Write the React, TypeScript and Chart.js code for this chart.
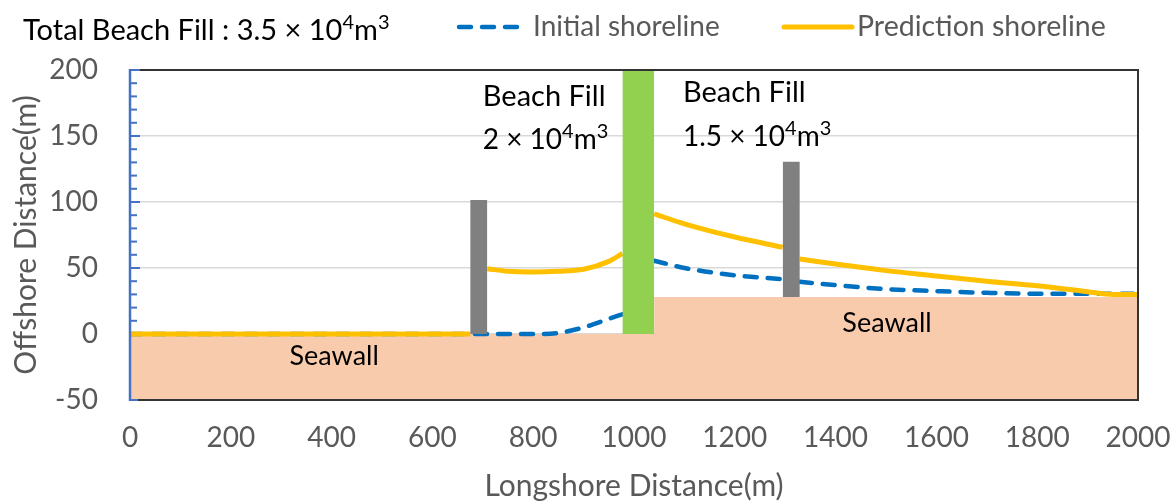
import React, { useEffect, useRef } from 'react';
import { Chart, registerables } from 'chart.js';

Chart.register(...registerables);

// ---------- data ----------
const longshore = [0, 100, 200, 300, 400, 500, 600, 675, 692, 709, 750, 800, 850, 900, 950, 977, 1008, 1040, 1100, 1200, 1295, 1312, 1329, 1400, 1500, 1600, 1700, 1800, 1900, 1950, 2000];
const initialShoreline = [0, 0, 0, 0, 0, 0, 0, 0, 0, 0, 0, 0, 0.8, 5, 11.5, 15, null, 55.5, 50, 44.5, 41.5, null, 39.5, 37, 34, 32.5, 31.2, 30.5, 30.5, 30.5, 30.5];
const predictionShoreline = [0, 0, 0, 0, 0, 0, 0, 0, null, 49.5, 47.5, 47, 47.5, 49, 55, 61, null, 91, 83.5, 73.5, 65.7, null, 56.8, 53, 48, 44, 40, 36.5, 32, 30, 30];

const seawallX = [0, 1040, 1040, 2000];
const seawallY = [0, 0, 28, 28];

const beachFillX = [977, 1040];
const beachFillTop = 200;
const beachFillBase = 0;

const groin1X = [675, 709];
const groin1Top = 101.5;
const groin1Base = 0;

const groin2X = [1295, 1329];
const groin2Top = 130.5;
const groin2Base = 28;

const xTickMin = 0;
const xTickMax = 2000;
const xTickStep = 200;
const yTickMin = -50;
const yTickMax = 200;
const yTickStep = 50;
const yMinorStep = 10;

const seriesNames = ['Initial shoreline', 'Prediction shoreline'];
const titleText = [{ t: 'Total Beach Fill : 3.5 × 10' }, { t: '4', sup: true }, { t: 'm' }, { t: '3', sup: true }];
const fill1Line1 = [{ t: 'Beach Fill' }];
const fill1Line2 = [{ t: '2 × 10' }, { t: '4', sup: true }, { t: 'm' }, { t: '3', sup: true }];
const fill2Line1 = [{ t: 'Beach Fill' }];
const fill2Line2 = [{ t: '1.5 × 10' }, { t: '4', sup: true }, { t: 'm' }, { t: '3', sup: true }];
const seawallLabel = [{ t: 'Seawall' }];

// ---------- styles ----------
const FONT = 'Lato, "Noto Sans", sans-serif';
const BLUE = '#0070C0';
const YELLOW = '#FFC000';
const GREEN = '#92D050';
const GRAY = '#808080';
const PEACH = '#F8CBAD';
const AXIS_BLUE = '#4472C4';
const TEXT_GRAY = '#595959';

type Seg = { t: string; sup?: boolean };

function drawRich(ctx: CanvasRenderingContext2D, x: number, y: number, segs: Seg[], size: number, color: string, align: 'left' | 'center' = 'left') {
  ctx.save();
  ctx.fillStyle = color;
  ctx.textBaseline = 'middle';
  ctx.textAlign = 'left';
  const supSize = Math.round(size * 0.7);
  const widths = segs.map((s) => {
    ctx.font = `${s.sup ? supSize : size}px ${FONT}`;
    return ctx.measureText(s.t).width;
  });
  const total = widths.reduce((a, b) => a + b, 0);
  let cx = align === 'center' ? x - total / 2 : x;
  segs.forEach((s, i) => {
    ctx.font = `${s.sup ? supSize : size}px ${FONT}`;
    ctx.fillText(s.t, cx, s.sup ? y - size * 0.3 : y);
    cx += widths[i];
  });
  ctx.restore();
}

const pts = (xs: number[], ys: (number | null)[]) => xs.map((x, i) => ({ x, y: ys[i] }));
const flat = (xs: number[], v: number) => xs.map((x) => ({ x, y: v }));

const overlayPlugin = {
  id: 'overlay',
  afterDatasetsDraw(chart: any) {
    const { ctx, chartArea: a, scales } = chart;
    const ys = scales.y;
    ctx.save();
    ctx.strokeStyle = '#333333';
    ctx.lineWidth = 2;
    ctx.beginPath();
    ctx.moveTo(a.left, a.top);
    ctx.lineTo(a.right, a.top);
    ctx.lineTo(a.right, a.bottom);
    ctx.lineTo(a.left, a.bottom);
    ctx.stroke();
    ctx.strokeStyle = AXIS_BLUE;
    ctx.lineWidth = 2.5;
    ctx.beginPath();
    ctx.moveTo(a.left, a.top - 1);
    ctx.lineTo(a.left, a.bottom + 1);
    ctx.stroke();
    ctx.lineWidth = 2;
    for (let v = yMinorStep; v <= yTickMax; v += yMinorStep) {
      const py = ys.getPixelForValue(v);
      const len = v % yTickStep === 0 ? 10 : 7;
      ctx.beginPath();
      ctx.moveTo(a.left, py);
      ctx.lineTo(a.left + len, py);
      ctx.stroke();
    }
    ctx.beginPath();
    ctx.moveTo(a.left, a.bottom);
    ctx.lineTo(a.left + 8, a.bottom);
    ctx.stroke();
    ctx.restore();
  },
  afterDraw(chart: any) {
    const { ctx, scales } = chart;
    const xs = scales.x;
    const ys = scales.y;
    const px = (v: number) => xs.getPixelForValue(v);
    const py = (v: number) => ys.getPixelForValue(v);
    drawRich(ctx, px(700), py(180), fill1Line1, 29, '#000');
    drawRich(ctx, px(700), py(147), fill1Line2, 28, '#000');
    drawRich(ctx, px(1097), py(183), fill2Line1, 29, '#000');
    drawRich(ctx, px(1097), py(149), fill2Line2, 28, '#000');
    drawRich(ctx, px(405), py(-17), seawallLabel, 27, '#000', 'center');
    drawRich(ctx, px(1502), py(8), seawallLabel, 27, '#000', 'center');
    drawRich(ctx, 23, 31, titleText, 29, '#000');
    ctx.save();
    ctx.lineCap = 'round';
    ctx.lineWidth = 4.5;
    ctx.strokeStyle = BLUE;
    ctx.setLineDash([12, 11]);
    ctx.beginPath();
    ctx.moveTo(459, 27);
    ctx.lineTo(518, 27);
    ctx.stroke();
    ctx.setLineDash([]);
    ctx.strokeStyle = YELLOW;
    ctx.lineWidth = 5;
    ctx.beginPath();
    ctx.moveTo(784, 27);
    ctx.lineTo(852, 27);
    ctx.stroke();
    ctx.restore();
    drawRich(ctx, 533, 27, [{ t: seriesNames[0] }], 28, TEXT_GRAY);
    drawRich(ctx, 857, 27, [{ t: seriesNames[1] }], 28.5, TEXT_GRAY);
  },
};

export default function App() {
  const ref = useRef<HTMLCanvasElement | null>(null);

  useEffect(() => {
    if (!ref.current) return;
    const chart = new Chart(ref.current, {
      type: 'line',
      data: {
        datasets: [
          {
            label: 'Beach fill',
            data: flat(beachFillX, beachFillTop),
            borderWidth: 0,
            borderColor: GREEN,
            backgroundColor: GREEN,
            pointRadius: 0,
            fill: { value: beachFillBase },
            order: 0,
          },
          {
            label: 'Groin 1',
            data: flat(groin1X, groin1Top),
            borderWidth: 0,
            borderColor: GRAY,
            backgroundColor: GRAY,
            pointRadius: 0,
            fill: { value: groin1Base },
            order: 1,
          },
          {
            label: 'Groin 2',
            data: flat(groin2X, groin2Top),
            borderWidth: 0,
            borderColor: GRAY,
            backgroundColor: GRAY,
            pointRadius: 0,
            fill: { value: groin2Base },
            order: 2,
          },
          {
            label: seriesNames[1],
            data: pts(longshore, predictionShoreline),
            borderColor: YELLOW,
            backgroundColor: YELLOW,
            borderWidth: 5,
            pointRadius: 0,
            cubicInterpolationMode: 'monotone',
            spanGaps: false,
            fill: false,
            order: 3,
          },
          {
            label: seriesNames[0],
            data: pts(longshore, initialShoreline),
            borderColor: BLUE,
            backgroundColor: BLUE,
            borderWidth: 4.5,
            borderDash: [12, 11],
            borderCapStyle: 'round',
            pointRadius: 0,
            cubicInterpolationMode: 'monotone',
            spanGaps: false,
            fill: false,
            order: 4,
          },
          {
            label: 'Seawall',
            data: pts(seawallX, seawallY),
            borderWidth: 0,
            borderColor: PEACH,
            backgroundColor: PEACH,
            pointRadius: 0,
            fill: 'start',
            order: 5,
          },
        ],
      } as any,
      options: {
        responsive: false,
        animation: false,
        events: [],
        layout: { padding: { top: 70, right: 35, bottom: 0, left: 0 } },
        plugins: {
          legend: { display: false },
          tooltip: { enabled: false },
          title: { display: false },
        },
        scales: {
          x: {
            type: 'linear',
            min: xTickMin,
            max: xTickMax,
            ticks: {
              stepSize: xTickStep,
              color: TEXT_GRAY,
              font: { family: FONT, size: 28 },
              padding: 21,
              maxRotation: 0,
              callback: (v: any) => String(v),
            },
            grid: { display: false, drawTicks: false },
            border: { display: false },
            title: {
              display: true,
              text: 'Longshore Distance(m)',
              color: TEXT_GRAY,
              font: { family: FONT, size: 30, lineHeight: 1 },
              padding: { top: 0, bottom: 0 },
            },
            afterFit: (scale: any) => {
              scale.height = 101;
              scale.paddingLeft = 0;
              scale.paddingRight = 0;
            },
          },
          y: {
            type: 'linear',
            min: yTickMin,
            max: yTickMax,
            ticks: {
              stepSize: yTickStep,
              color: TEXT_GRAY,
              font: { family: FONT, size: 28 },
              padding: 32,
            },
            grid: {
              drawTicks: false,
              lineWidth: 1.5,
              color: (c: any) => (c.tick && (c.tick.value === yTickMax || c.tick.value === yTickMin) ? 'rgba(0,0,0,0)' : '#D9D9D9'),
            },
            border: { display: false },
            title: {
              display: true,
              text: 'Offshore Distance(m)',
              color: TEXT_GRAY,
              font: { family: FONT, size: 30 },
              padding: { top: 8, bottom: 0 },
            },
            afterFit: (scale: any) => {
              scale.width = 130;
            },
          },
        },
      } as any,
      plugins: [overlayPlugin],
    });
    return () => chart.destroy();
  }, []);

  return (
    <div style={{ position: 'fixed', left: 0, top: 0, width: 1173, height: 501, background: '#fff' }}>
      <canvas ref={ref} width={1173} height={501} style={{ display: 'block' }} />
    </div>
  );
}
